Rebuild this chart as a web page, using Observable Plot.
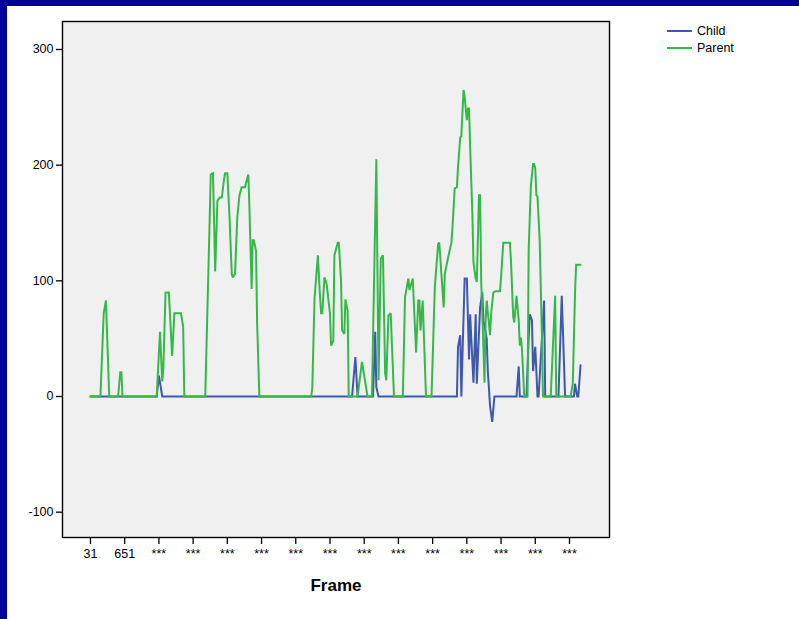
<!DOCTYPE html>
<html>
<head>
<meta charset="utf-8">
<script src="https://cdn.jsdelivr.net/npm/d3@7"></script>
<script src="https://cdn.jsdelivr.net/npm/@observablehq/plot@0.6"></script>
<style>
  html, body { margin: 0; padding: 0; background: #ffffff; }
  #page { position: relative; width: 799px; height: 619px; overflow: hidden; background: #ffffff; font-family: "Liberation Sans", Arial, sans-serif; }
  #chart { position: absolute; left: 0; top: 0; }
  .bar-top { position: absolute; left: 0; top: 0; width: 799px; height: 6px; background: #000099; }
  .bar-left { position: absolute; left: 0; top: 0; width: 7px; height: 619px; background: #000099; }
  #legend { position: absolute; left: 667px; top: 23px; font-size: 12.5px; color: #000; }
  #legend .item { display: flex; align-items: center; height: 16.5px; }
  #legend .swatch { width: 25px; height: 2px; margin-right: 5px; }
</style>
</head>
<body>
<div id="page">
  <div id="chart"></div>
  <div class="bar-top"></div>
  <div class="bar-left"></div>
  <div id="legend"></div>
</div>
<script>
// ---- Data ----
const seriesNames = ["Child", "Parent"];
const seriesColors = ["#3e58ac", "#35b84a"];

const childFrames = [31, 1231, 1271, 1331, 4771, 4831, 4871, 5151, 5191, 5211, 5251,
  6671, 6691, 6731, 6751, 6811, 6851, 6891, 6911, 6951, 6971, 7011, 7031, 7091, 7131,
  7151, 7211, 7231, 7271, 7311, 7351, 7751, 7791, 7811, 7931, 7971, 7991, 8031, 8051,
  8091, 8131, 8151, 8251, 8271, 8511, 8571, 8631, 8791, 8811, 8851, 8871, 8911];
const childValues = [0, 0, 18, 0, 0, 34, 0, 0, 56, 8, 0,
  0, 43, 53, 0, 102, 102, 32, 71, 31, 12, 71, 11, 77, 90,
  66, 50, 22, -8, -22, 0, 0, 26, 0, 0, 50, 71, 66, 22,
  43, 0, 0, 83, 0, 0, 87, 0, 0, 11, 0, 0, 27];

const parentFrames = [31, 211, 271, 311, 371, 531, 571, 591, 611, 1231, 1291, 1331, 1351,
  1391, 1451, 1511, 1551, 1671, 1711, 1731, 2111, 2211, 2251, 2291, 2331, 2371, 2411,
  2451, 2471, 2511, 2551, 2591, 2611, 2651, 2691, 2731, 2771, 2831, 2851, 2891, 2911,
  2951, 2971, 2991, 3031, 3051, 3091, 4031, 4051, 4091, 4151, 4191, 4211, 4231, 4271,
  4311, 4351, 4371, 4391, 4431, 4451, 4511, 4531, 4571, 4591, 4631, 4651, 4691, 4711,
  4871, 4951, 5051, 5131, 5211, 5251, 5291, 5331, 5371, 5391, 5431, 5471, 5531, 5691,
  5731, 5791, 5811, 5871, 5931, 5971, 5991, 6011, 6051, 6111, 6211, 6271, 6331, 6351,
  6431, 6451, 6511, 6571, 6591, 6631, 6671, 6691, 6731, 6751, 6791, 6811, 6851, 6871,
  6891, 6911, 6931, 6951, 6971, 7011, 7031, 7071, 7091, 7111, 7151, 7171, 7191, 7211,
  7271, 7291, 7331, 7371, 7451, 7471, 7511, 7631, 7651, 7691, 7711, 7751, 7791, 7811,
  7831, 7851, 7891, 7951, 7971, 8011, 8051, 8071, 8091, 8111, 8131, 8171, 8211, 8231,
  8371, 8451, 8471, 8731, 8771, 8811, 8831, 8911];
const parentValues = [0, 0, 72, 83, 0, 0, 21, 21, 0, 0, 56, 13, 24,
  90, 90, 35, 72, 72, 60, 0, 0, 192, 193, 108, 169, 172, 172,
  188, 193, 193, 155, 106, 103, 106, 155, 174, 181, 181, 185, 192, 164,
  93, 135, 135, 126, 63, 0, 0, 8, 85, 122, 86, 72, 72, 103,
  97, 80, 72, 44, 48, 122, 133, 133, 100, 57, 54, 84, 74, 0,
  0, 30, 0, 0, 205, 14, 119, 122, 20, 14, 70, 72, 0, 0,
  86, 102, 92, 102, 38, 83, 83, 57, 83, 0, 0, 95, 132, 133,
  77, 106, 120, 133, 146, 180, 181, 198, 224, 225, 265, 259, 239, 249,
  249, 216, 187, 158, 116, 102, 99, 174, 174, 100, 43, 12, 66, 83,
  53, 72, 90, 91, 91, 103, 133, 133, 117, 69, 64, 87, 66, 44,
  51, 40, 0, 0, 126, 182, 201, 201, 197, 174, 173, 135, 53, 0,
  0, 87, 0, 0, 11, 89, 114, 114];

const xTickFrames = [31, 651, 1271, 1891, 2511, 3131, 3751, 4371, 4991, 5611, 6231, 6851, 7471, 8091, 8711];
const xTickLabels = ["31", "651", "***", "***", "***", "***", "***", "***", "***", "***", "***", "***", "***", "***", "***"];
const yTicks = [-100, 0, 100, 200, 300];
const xLabel = "Frame";

// ---- Build table ----
const rows = [];
childFrames.forEach((f, i) => rows.push({series: seriesNames[0], frame: f, value: childValues[i]}));
parentFrames.forEach((f, i) => rows.push({series: seriesNames[1], frame: f, value: parentValues[i]}));
const labelOf = new Map(xTickFrames.map((f, i) => [f, xTickLabels[i]]));

const chart = Plot.plot({
  width: 799,
  height: 619,
  marginLeft: 62,
  marginRight: 190,
  marginTop: 21,
  marginBottom: 82,
  style: {background: "transparent", fontFamily: "'Liberation Sans', Arial, sans-serif", fontSize: "12px", color: "#000"},
  x: {domain: [-476, 9436]},
  y: {domain: [-121.9, 324.2]},
  color: {domain: seriesNames, range: seriesColors},
  marks: [
    Plot.frame({fill: "#f0f0f0", stroke: null}),
    Plot.line(rows.filter(d => d.series === seriesNames[0]), {x: "frame", y: "value", stroke: "series", strokeWidth: 2, strokeLinejoin: "miter", strokeMiterlimit: 2}),
    Plot.line(rows.filter(d => d.series === seriesNames[1]), {x: "frame", y: "value", stroke: "series", strokeWidth: 2, strokeLinejoin: "miter", strokeMiterlimit: 2}),
    Plot.frame({stroke: "#000", strokeWidth: 1.4}),
    Plot.axisX({ticks: xTickFrames, tickFormat: d => labelOf.get(d), tickSize: 7, tickPadding: 5, label: null, strokeWidth: 1.3, fontSize: 12.5}),
    Plot.axisY({ticks: yTicks, tickFormat: d => String(d), tickSize: 6, tickPadding: 3, label: null, strokeWidth: 1.3, fontSize: 12.5}),
    Plot.text([xLabel], {frameAnchor: "bottom", dy: 53, fontWeight: "bold", fontSize: 17, text: d => d})
  ]
});
document.getElementById("chart").appendChild(chart);

// legend
const legend = document.getElementById("legend");
seriesNames.forEach((name, i) => {
  const item = document.createElement("div");
  item.className = "item";
  const sw = document.createElement("span");
  sw.className = "swatch";
  sw.style.background = seriesColors[i];
  const tx = document.createElement("span");
  tx.textContent = name;
  item.appendChild(sw);
  item.appendChild(tx);
  legend.appendChild(item);
});
</script>
</body>
</html>
